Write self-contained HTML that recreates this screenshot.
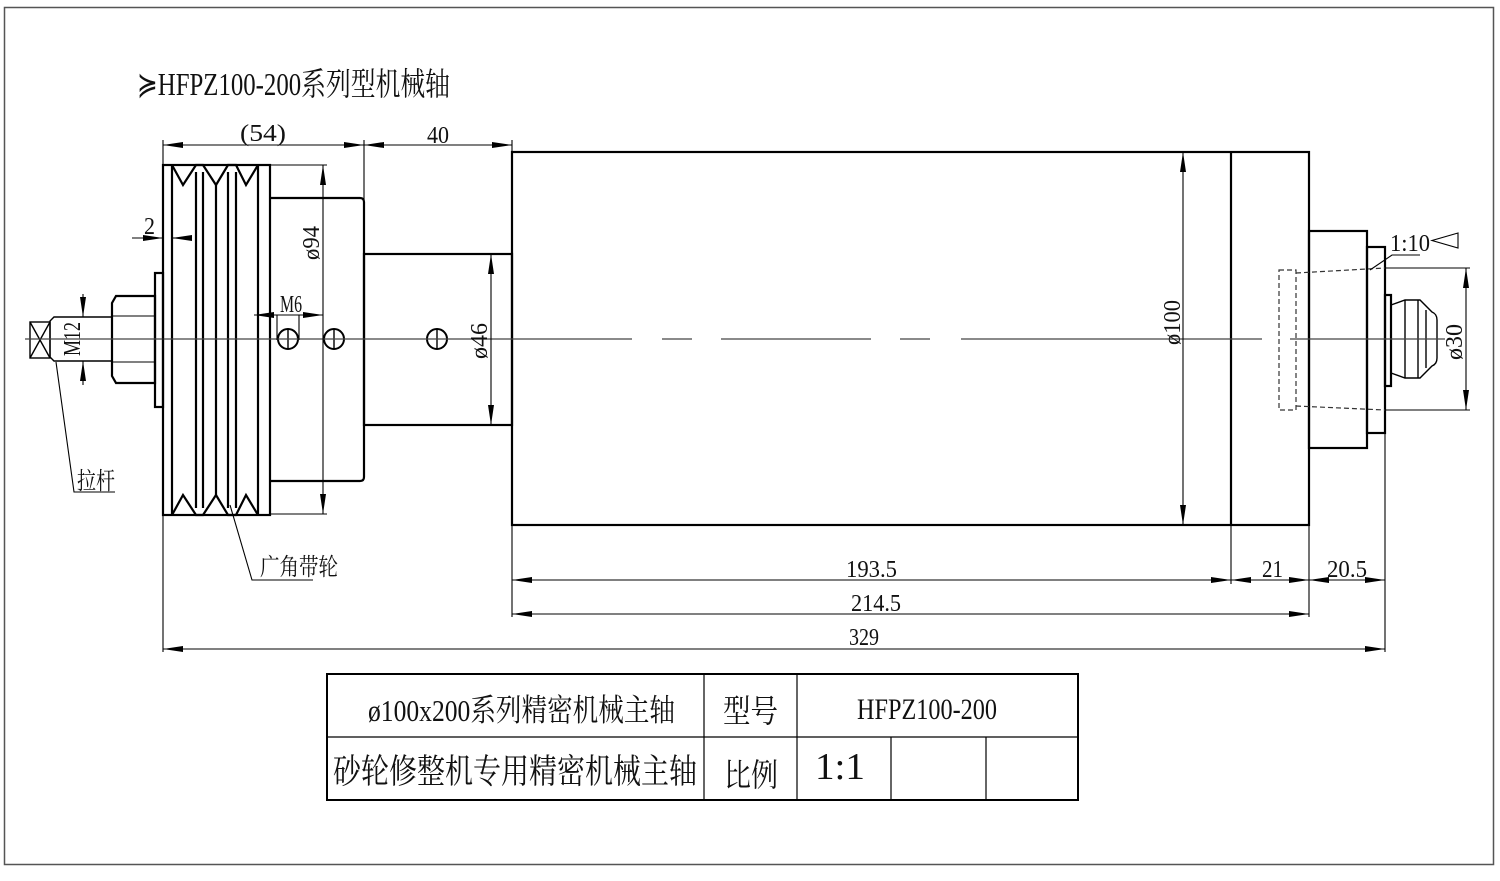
<!DOCTYPE html>
<html><head><meta charset="utf-8"><style>
html,body{margin:0;padding:0;background:#fff}
svg{display:block}
text{font-family:"Liberation Serif","Noto Serif CJK SC","Noto Sans CJK SC",serif;fill:#111}
</style></head><body>
<svg width="1500" height="881" viewBox="0 0 1500 881" xmlns="http://www.w3.org/2000/svg">
<defs>
<marker id="a" viewBox="0 0 20 6" refX="20" refY="3" markerWidth="20" markerHeight="6" markerUnits="userSpaceOnUse" orient="auto-start-reverse"><path d="M0,0 L20,3 L0,6 z" fill="#000"/></marker>
</defs>
<rect x="4.5" y="7.5" width="1489" height="857" fill="none" stroke="#555" stroke-width="1.5"/>
<text x="137" y="95" font-size="32" textLength="313" lengthAdjust="spacingAndGlyphs">≽HFPZ100-200系列型机械轴</text>

<g fill="none" stroke="#000" stroke-width="2.2">
<rect x="512" y="152" width="797" height="373"/>
<line x1="1231" y1="152" x2="1231" y2="525"/>
<rect x="1309" y="231" width="58" height="217"/>
<rect x="1367" y="247" width="18" height="186"/>
<rect x="1385" y="295" width="6" height="91"/>
<rect x="364" y="254" width="148" height="171"/>
<path d="M270,198 H360 Q364,198 364,202 V477 Q364,481 360,481 H270"/>
<rect x="163" y="165" width="107" height="350"/>
<line x1="172" y1="165" x2="172" y2="515"/>
<line x1="258" y1="165" x2="258" y2="515"/>
<line x1="196" y1="172" x2="196" y2="508"/>
<line x1="203" y1="172" x2="203" y2="508"/>
<line x1="216" y1="185" x2="216" y2="495"/>
<line x1="228" y1="172" x2="228" y2="508"/>
<line x1="236" y1="172" x2="236" y2="508"/>
<path d="M172,165 L183,185 L196,165 L203,165 L216,185 L228,165 L236,165 L246,185 L258,165"/>
<path d="M172,515 L183,495 L196,515 L203,515 L216,495 L228,515 L236,515 L246,495 L258,515"/>
<rect x="155" y="273" width="8" height="134"/>
<path d="M116,296 H155 V383 H116 L112,376 V303 Z"/>
<line x1="112" y1="316" x2="155" y2="316" stroke-width="1"/>
<line x1="112" y1="362" x2="155" y2="362" stroke-width="1"/>
</g>
<g fill="none" stroke="#000" stroke-width="1.4">
<path d="M54,317 H112 V361 H54 L50,357 V321 Z"/>
<rect x="30" y="322" width="20" height="36"/>
<path d="M30,322 L50,358 M50,322 L30,358"/>
<path d="M1391,305 L1405,300 H1420 Q1428,308 1432,312 Q1437,314 1437,320 V358 Q1437,364 1432,366 Q1428,370 1420,378 H1405 L1391,373"/>
<line x1="1405" y1="300" x2="1405" y2="378"/><line x1="1418" y1="300" x2="1418" y2="378"/><line x1="1426" y1="310" x2="1426" y2="368"/>
<g stroke-dasharray="5,3" stroke="#333" stroke-width="1.2">
<rect x="1279" y="270" width="17" height="140"/>
<line x1="1296" y1="273" x2="1385" y2="268"/>
<line x1="1296" y1="406" x2="1385" y2="410"/>
</g>
<circle cx="288" cy="339" r="10" stroke-width="2"/><circle cx="334" cy="339" r="10" stroke-width="2"/><circle cx="437" cy="339" r="10" stroke-width="2"/>
<line x1="288" y1="329" x2="288" y2="349"/><line x1="334" y1="329" x2="334" y2="349"/><line x1="437" y1="329" x2="437" y2="349"/>
</g>
<g stroke="#444" stroke-width="1.2">
<line x1="25" y1="339" x2="632" y2="339"/>
<line x1="662" y1="339" x2="692" y2="339"/>
<line x1="721" y1="339" x2="871" y2="339"/>
<line x1="900" y1="339" x2="930" y2="339"/>
<line x1="961" y1="339" x2="1262" y2="339"/>
<line x1="1290" y1="339" x2="1445" y2="339"/>
</g>

<g stroke="#000" stroke-width="1.1" fill="none">
<line x1="163" y1="140" x2="163" y2="652"/>
<line x1="364" y1="140" x2="364" y2="254"/>
<line x1="512" y1="140" x2="512" y2="152"/>
<line x1="163" y1="145" x2="364" y2="145" marker-start="url(#a)" marker-end="url(#a)"/>
<line x1="364" y1="145" x2="512" y2="145" marker-start="url(#a)" marker-end="url(#a)"/>
<line x1="270" y1="165" x2="327" y2="165"/><line x1="270" y1="514" x2="327" y2="514"/>
<line x1="323" y1="165" x2="323" y2="514" marker-start="url(#a)" marker-end="url(#a)"/>
<line x1="491" y1="254" x2="491" y2="425" marker-start="url(#a)" marker-end="url(#a)"/>
<line x1="1183" y1="152" x2="1183" y2="525" marker-start="url(#a)" marker-end="url(#a)"/>
<line x1="1385" y1="268" x2="1470" y2="268"/><line x1="1385" y1="410" x2="1470" y2="410"/>
<line x1="1466" y1="268" x2="1466" y2="410" marker-start="url(#a)" marker-end="url(#a)"/>
<line x1="277" y1="315" x2="277" y2="340"/><line x1="299" y1="315" x2="299" y2="340"/>
<line x1="254" y1="315" x2="277" y2="315" marker-start="url(#a)"/>
<line x1="277" y1="315" x2="323" y2="315" marker-end="url(#a)"/>
<line x1="132" y1="238" x2="163" y2="238" marker-end="url(#a)"/>
<line x1="172" y1="238" x2="187" y2="238" marker-start="url(#a)"/>
<line x1="83" y1="294" x2="83" y2="317" marker-end="url(#a)"/>
<line x1="83" y1="361" x2="83" y2="385" marker-start="url(#a)"/>
<path d="M56,362 L74,492 H115"/>
<path d="M230,505 L252,580 H313"/>
<path d="M1370,270 L1392,255 H1420"/>
<path d="M1458,233 L1432,240.5 L1458,248 Z"/>
<line x1="512" y1="525" x2="512" y2="617"/>
<line x1="1231" y1="525" x2="1231" y2="584"/>
<line x1="1309" y1="525" x2="1309" y2="617"/>
<line x1="1385" y1="433" x2="1385" y2="652"/>
<line x1="512" y1="580" x2="1231" y2="580" marker-start="url(#a)" marker-end="url(#a)"/>
<line x1="1231" y1="580" x2="1309" y2="580" marker-start="url(#a)" marker-end="url(#a)"/>
<line x1="1309" y1="580" x2="1385" y2="580" marker-start="url(#a)" marker-end="url(#a)"/>
<line x1="512" y1="614" x2="1309" y2="614" marker-start="url(#a)" marker-end="url(#a)"/>
<line x1="163" y1="649" x2="1385" y2="649" marker-start="url(#a)" marker-end="url(#a)"/>
</g>
<g font-size="24">
<text x="240" y="141" textLength="46" lengthAdjust="spacingAndGlyphs">(54)</text>
<text x="427" y="143" textLength="22" lengthAdjust="spacingAndGlyphs">40</text>
<text x="144" y="234" textLength="11" lengthAdjust="spacingAndGlyphs">2</text>
<text x="280" y="312" textLength="22" lengthAdjust="spacingAndGlyphs">M6</text>
<text x="846" y="577" textLength="51" lengthAdjust="spacingAndGlyphs">193.5</text>
<text x="1262" y="577" textLength="21" lengthAdjust="spacingAndGlyphs">21</text>
<text x="1327" y="577" textLength="40" lengthAdjust="spacingAndGlyphs">20.5</text>
<text x="851" y="611" textLength="50" lengthAdjust="spacingAndGlyphs">214.5</text>
<text x="849" y="645" textLength="30" lengthAdjust="spacingAndGlyphs">329</text>
<text x="1390" y="251" textLength="40" lengthAdjust="spacingAndGlyphs">1:10</text>
<text transform="translate(319,260) rotate(-90)" textLength="34" lengthAdjust="spacingAndGlyphs">ø94</text>
<text transform="translate(487,359) rotate(-90)" textLength="36" lengthAdjust="spacingAndGlyphs">ø46</text>
<text transform="translate(1180,345) rotate(-90)" textLength="45" lengthAdjust="spacingAndGlyphs">ø100</text>
<text transform="translate(1462,360) rotate(-90)" textLength="36" lengthAdjust="spacingAndGlyphs">ø30</text>
<text transform="translate(80,356) rotate(-90)" textLength="34" lengthAdjust="spacingAndGlyphs">M12</text>
<text x="77" y="489" textLength="38" lengthAdjust="spacingAndGlyphs">拉杆</text>
<text x="260" y="575" textLength="78" lengthAdjust="spacingAndGlyphs">广角带轮</text>
</g>

<g stroke="#000" fill="none">
<rect x="327" y="674" width="751" height="126" stroke-width="2"/>
<line x1="327" y1="737" x2="1078" y2="737" stroke-width="1.2"/>
<line x1="704" y1="674" x2="704" y2="800" stroke-width="1.2"/>
<line x1="797" y1="674" x2="797" y2="800" stroke-width="1.2"/>
<line x1="891" y1="737" x2="891" y2="800" stroke-width="1.2"/>
<line x1="986" y1="737" x2="986" y2="800" stroke-width="1.2"/>
</g>
<text x="368" y="721" font-size="31" textLength="307" lengthAdjust="spacingAndGlyphs">ø100x200系列精密机械主轴</text>
<text x="723" y="722" font-size="32" textLength="55" lengthAdjust="spacingAndGlyphs">型号</text>
<text x="857" y="719" font-size="30" textLength="140" lengthAdjust="spacingAndGlyphs">HFPZ100-200</text>
<text x="333" y="783" font-size="34" textLength="364" lengthAdjust="spacingAndGlyphs">砂轮修整机专用精密机械主轴</text>
<text x="724" y="786" font-size="32" textLength="54" lengthAdjust="spacingAndGlyphs">比例</text>
<text x="815" y="779" font-size="38" textLength="50" lengthAdjust="spacingAndGlyphs">1:1</text>
</svg>
</body></html>
